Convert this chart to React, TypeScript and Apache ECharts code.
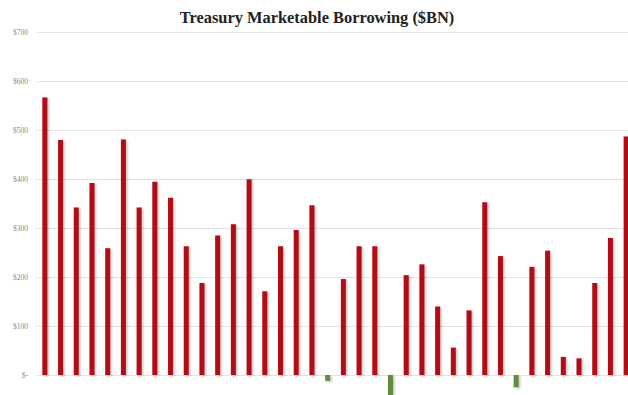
import React, { useEffect, useRef } from "react";
import * as echarts from "echarts";

const TITLE = "Treasury Marketable Borrowing ($BN)";

const periods: string[] = Array.from({ length: 38 }, (_, i) => `P${i + 1}`);

const borrowing: number[] = [
  567, 480, 342, 392, 259, 481, 342, 395, 362, 263,
  188, 285, 308, 400, 171, 263, 296, 347, -12, 196,
  263, 263, -50, 204, 226, 140, 56, 132, 353, 243,
  -25, 221, 254, 37, 34, 188, 280, 487,
];

const yTicks: number[] = [-100, 0, 100, 200, 300, 400, 500, 600, 700];

const RED = "#b10a12";
const GREEN = "#5e8c3c";

export default function App() {
  const ref = useRef<HTMLDivElement>(null);
  useEffect(() => {
    document.body.style.margin = "0";
    document.body.style.overflow = "hidden";
    document.documentElement.style.overflow = "hidden";
    const chart = echarts.init(ref.current!, null, { renderer: "svg" });
    chart.setOption({
      animation: false,
      backgroundColor: "#ffffff",
      title: {
        text: TITLE,
        left: "center",
        top: 4,
        textStyle: {
          fontFamily: "Liberation Serif",
          fontWeight: "bold",
          fontSize: 16.4,
          color: "#222222",
        },
      },
      grid: { left: 37, right: 0, top: 32.3, bottom: 0 },
      xAxis: {
        type: "category",
        data: periods,
        axisLine: { show: false },
        axisTick: { show: false },
        axisLabel: { show: false },
        splitLine: { show: false },
      },
      yAxis: {
        type: "value",
        min: yTicks[0],
        max: yTicks[yTicks.length - 1],
        interval: 100,
        axisLine: { show: false },
        axisTick: { show: false },
        axisLabel: {
          margin: 9,
          fontFamily: "Liberation Serif",
          fontSize: 7.5,
          color: "#8a8a8a",
          formatter: (v: number) => (v < 0 ? "" : v === 0 ? "$-" : `$${v}`),
        },
        splitLine: { lineStyle: { color: "#e3e3e3", width: 1 } },
      },
      series: [
        {
          type: "bar",
          barWidth: 5,
          data: borrowing.map((v) => ({
            value: v,
            itemStyle: { color: v < 0 ? GREEN : RED },
          })),
          itemStyle: {
            shadowColor: "rgba(0,0,0,0.25)",
            shadowBlur: 2,
            shadowOffsetX: 1.5,
            shadowOffsetY: 1,
          },
        },
      ],
    });
    return () => chart.dispose();
  }, []);
  return (
    <div style={{ width: 628, height: 395, overflow: "hidden" }}>
      <div ref={ref} style={{ width: 634, height: 424 }} />
    </div>
  );
}
